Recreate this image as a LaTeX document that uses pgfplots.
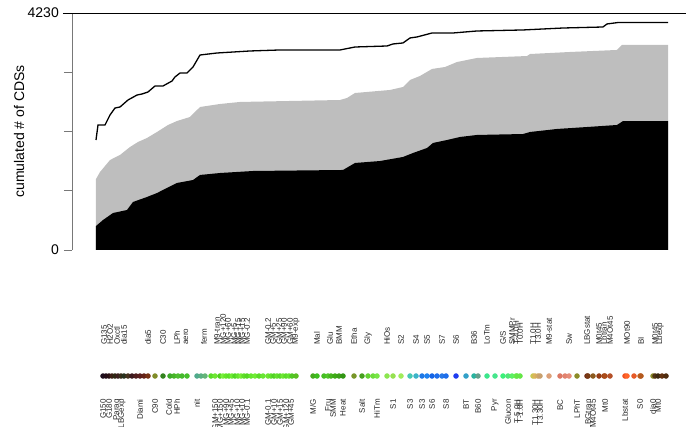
\documentclass[border=0pt]{standalone}
\usepackage{pgfplots}
\pgfplotsset{compat=1.18}
\usepackage{pgfplotstable}
\usepackage{fontspec}
\setmainfont{Liberation Sans}
\definecolor{areagray}{RGB}{190,190,190}
\definecolor{axgray}{RGB}{120,120,120}

\pgfplotstableread{
x y
96 1963
98 2231
105 2231
110 2409
115 2534
120 2552
128 2677
137 2766
142 2784
148 2820
155 2927
163 2927
172 3016
175 3088
180 3159
187 3159
193 3266
200 3480
217 3516
250 3552
280 3570
340 3570
355 3623
387 3641
393 3677
403 3695
410 3784
417 3802
432 3873
453 3873
477 3909
523 3927
563 3962
603 3980
607 4034
618 4060
668 4060
}\totaltab

\pgfplotstableread{
x y
96 1267
100 1392
110 1606
120 1696
130 1838
138 1928
147 1999
157 2106
168 2231
177 2302
190 2374
200 2552
220 2606
240 2642
340 2677
347 2713
355 2802
390 2856
403 2909
410 3034
420 3106
432 3231
445 3266
457 3355
477 3427
527 3462
530 3498
570 3534
617 3570
622 3659
668 3659
}\graytab

\pgfplotstableread{
x y
96 428
103 535
113 660
127 714
133 857
147 946
157 1017
167 1107
177 1196
193 1249
200 1339
220 1374
253 1410
343 1428
355 1553
380 1588
403 1660
413 1731
427 1820
433 1910
447 1963
460 2017
477 2053
523 2070
530 2106
557 2160
587 2195
617 2231
623 2302
668 2302
}\blacktab

\pgfplotstableread{
x y lab
104 -1696 G135
110 -1696 H2O2
117 -1696 Oxctl
124 -1696 dia15
148 -1696 dia5
163 -1696 C30
177 -1696 LPh
186 -1696 aero
204 -1696 ferm
217 -1696 M9-tran
223 -1696 MG+120
228 -1696 MG+60
234 -1696 MG+5
238 -1696 MG+15
242 -1696 MG+15
247 -1696 MG-0.2
268 -1696 GM-0.2
273 -1696 GM+5
279 -1696 GM+25
284 -1696 GM+90
290 -1696 GM+60
296 -1696 M9-exp
317 -1696 Mal
330 -1696 Glu
339 -1696 BMM
354 -1696 Etha
368 -1696 Gly
387 -1696 HiOs
401 -1696 S2
416 -1696 S4
427 -1696 S5
442 -1696 S7
456 -1696 S6
474 -1696 B36
487 -1696 LoTm
503 -1696 G/S
512 -1696 SMMPr
516 -1696 T-4.0H
520 -1696 T0.0H
533 -1696 T1.0H
538 -1696 T3.0H
549 -1696 M9-stat
569 -1696 Sw
587 -1696 LBGstat
599 -1696 M0t45
604 -1696 Lbtran
610 -1696 M4Ot45
627 -1696 MOt90
641 -1696 BI
655 -1696 M0t45
660 -1696 Lbexp
}\toplab

\pgfplotstableread{
x y lab
103 -2660 G150
109 -2660 G180
117 -2660 Paraq
122 -2660 LBGexp
140 -2660 Diami
155 -2660 C90
169 -2660 Cold
177 -2660 HPh
197 -2660 nit
215 -2660 GM+150
220 -2660 MG+150
226 -2660 MG+90
231 -2660 MG+45
237 -2660 MG+10
242 -2660 MG+10
247 -2660 MG-0.1
268 -2660 GM-0.1
274 -2660 GM+10
280 -2660 GM+15
286 -2660 GM+120
291 -2660 GM+45
313 -2660 M/G
328 -2660 Fru
333 -2660 SMM
343 -2660 Heat
362 -2660 Salt
377 -2660 HiTm
393 -2660 S1
410 -2660 S3
422 -2660 S3
432 -2660 S6
446 -2660 S8
466 -2660 BT
478 -2660 B60
495 -2660 Pyr
508 -2660 Glucon
517 -2660 T-5.0H
520 -2660 T-1.0H
535 -2660 T1.30H
540 -2660 T3.30H
560 -2660 BC
577 -2660 LPhT
588 -2660 LBGtran
593 -2660 M4Ot45
605 -2660 Mt0
625 -2660 Lbstat
640 -2660 S0
653 -2660 dia0
658 -2660 Mt0
}\botlab

\pgfplotstableread{
x y r g b
103 -2249 30 15 30
106 -2249 34 12 24
109 -2249 40 15 20
112 -2249 60 30 20
115 -2249 45 40 18
118 -2249 60 30 30
121 -2249 55 45 25
124 -2249 40 50 30
128 -2249 70 50 30
132 -2249 60 25 30
136 -2249 80 30 30
140 -2249 90 30 30
144 -2249 100 35 25
148 -2249 120 50 20
155 -2249 128 140 40
163 -2249 50 130 30
170 -2249 60 170 40
174 -2249 70 180 40
178 -2249 80 190 50
182 -2249 70 185 45
187 -2249 70 190 45
197 -2249 80 170 140
201 -2249 90 175 130
205 -2249 100 180 120
211 -2249 90 220 40
215 -2249 110 230 50
220 -2249 80 210 30
223 -2249 120 240 60
226 -2249 100 230 40
229 -2249 90 225 40
232 -2249 110 235 50
235 -2249 80 215 35
238 -2249 100 228 45
241 -2249 120 238 55
244 -2249 95 222 40
247 -2249 85 215 35
251 -2249 100 230 45
255 -2249 110 235 50
259 -2249 90 220 40
263 -2249 105 230 50
268 -2249 110 230 50
271 -2249 95 225 45
274 -2249 80 210 35
277 -2249 100 225 45
280 -2249 85 215 40
283 -2249 110 232 50
286 -2249 90 220 40
289 -2249 100 228 48
292 -2249 80 200 35
296 -2249 90 190 35
313 -2249 70 170 30
317 -2249 60 190 30
324 -2249 70 190 35
328 -2249 80 200 40
331 -2249 70 180 30
335 -2249 60 170 20
339 -2249 60 160 25
343 -2249 50 150 20
354 -2249 120 150 40
362 -2249 70 160 30
368 -2249 100 210 50
373 -2249 110 220 60
377 -2249 120 230 70
387 -2249 140 230 80
393 -2249 150 225 80
401 -2249 160 236 90
410 -2249 70 200 180
416 -2249 60 180 200
422 -2249 30 120 230
427 -2249 30 130 240
432 -2249 20 100 230
437 -2249 30 110 235
442 -2249 40 120 230
446 -2249 30 110 235
456 -2249 30 60 240
466 -2249 50 160 200
474 -2249 40 180 160
478 -2249 100 160 140
487 -2249 60 230 140
495 -2249 70 230 140
503 -2249 60 240 122
508 -2249 80 230 120
512 -2249 90 240 100
516 -2249 110 240 80
517 -2249 100 230 70
520 -2249 100 230 70
533 -2249 200 200 80
535 -2249 220 180 90
538 -2249 210 170 100
540 -2249 200 160 110
549 -2249 220 160 120
560 -2249 220 120 100
565 -2249 225 130 110
569 -2249 230 140 120
577 -2249 140 140 40
587 -2249 110 40 20
588 -2249 122 58 20
593 -2249 140 90 30
599 -2249 150 60 20
604 -2249 160 70 20
605 -2249 170 75 25
610 -2249 180 80 40
625 -2249 240 80 30
627 -2249 255 100 40
634 -2249 230 90 40
640 -2249 200 100 30
641 -2249 180 90 30
653 -2249 140 140 40
655 -2249 80 50 20
658 -2249 60 40 15
662 -2249 100 50 15
666 -2249 80 45 15
}\dottab

\begin{document}
\begin{tikzpicture}
\useasboundingbox (0,0) rectangle (686pt,427pt);
\clip (0,0) rectangle (686pt,427pt);
\begin{axis}[
  at={(72pt,177pt)}, anchor=south west,
  scale only axis, width=614pt, height=237pt,
  xmin=72, xmax=686, ymin=0, ymax=4230,
  axis x line=none, axis y line*=left,
  axis line style={-},
  y axis line style={axgray, line width=0.9pt},
  ytick={0,1057.5,2115,3172.5,4230},
  yticklabels={0,,,,4230},
  tick align=outside, major tick length=8pt,
  ytick style={axgray, line width=0.9pt},
  yticklabel style={font=\fontsize{14}{16}\selectfont, inner sep=5pt},
  ylabel={cumulated \# of CDSs},
  ylabel style={at={(axis description cs:-0.0863,0.5)}, anchor=center, font=\fontsize{14}{16}\selectfont},
  clip=false,
]
\addplot[fill=areagray, draw=none] table[x=x,y=y] {\graytab} \closedcycle;
\addplot[fill=black, draw=none] table[x=x,y=y] {\blacktab} \closedcycle;
\addplot[black, line width=1.3pt, mark=none] table[x=x,y=y] {\totaltab};
\draw[black, line width=0.9pt] (axis cs:63,4230) -- (axis cs:686,4230);
\addplot[only marks, mark=*, mark size=2.6pt, scatter,
  visualization depends on={\thisrow{r}\as\rv},
  visualization depends on={\thisrow{g}\as\gv},
  visualization depends on={\thisrow{b}\as\bv},
  scatter/@pre marker code/.code={%
    \pgfmathsetmacro\mkr{\rv/255}%
    \pgfmathsetmacro\mkg{\gv/255}%
    \pgfmathsetmacro\mkb{\bv/255}%
    \definecolor{mk}{rgb}{\mkr,\mkg,\mkb}%
    \scope[fill=mk,draw=mk,line width=0.2pt]},
  scatter/@post marker code/.code={\endscope}]
  table[x=x,y=y] {\dottab};
\addplot[draw=none, mark=none, nodes near coords, point meta=explicit symbolic,
  every node near coord/.append style={rotate=90, anchor=west, inner sep=0pt, font=\fontsize{8}{9}\selectfont, text=black!85}]
  table[x=x,y=y,meta=lab] {\toplab};
\addplot[draw=none, mark=none, nodes near coords, point meta=explicit symbolic,
  every node near coord/.append style={rotate=90, anchor=east, inner sep=0pt, font=\fontsize{8}{9}\selectfont, text=black!85}]
  table[x=x,y=y,meta=lab] {\botlab};
\end{axis}
\end{tikzpicture}
\end{document}
